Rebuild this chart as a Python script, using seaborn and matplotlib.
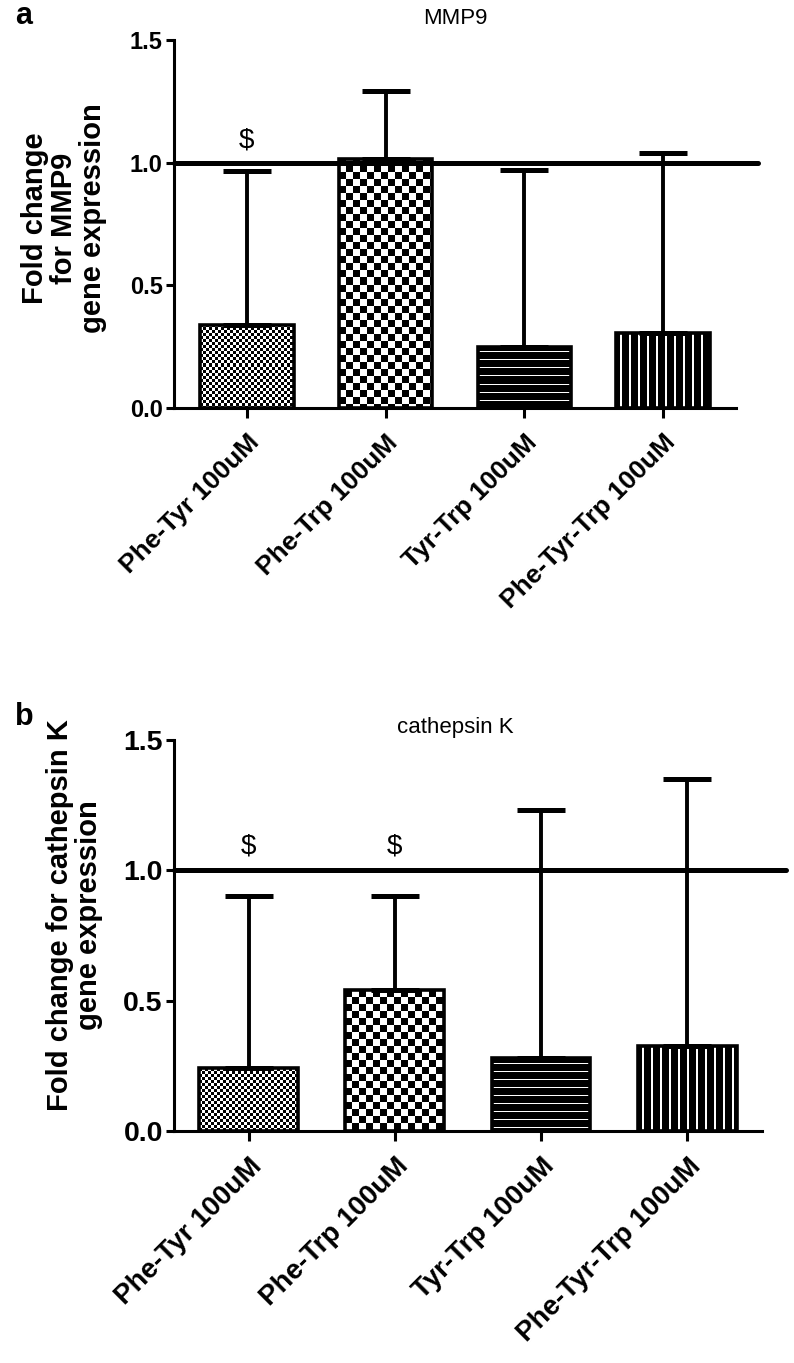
import numpy as np
import pandas as pd
import seaborn as sns
import matplotlib.pyplot as plt

sns.set_theme(style="ticks")
plt.rcParams['font.family'] = ['Liberation Sans', 'DejaVu Sans']
plt.rcParams['text.color'] = 'black'
plt.rcParams['axes.labelcolor'] = 'black'
plt.rcParams['xtick.color'] = 'black'
plt.rcParams['ytick.color'] = 'black'

# data
labels = ["Phe-Tyr 100uM", "Phe-Trp 100uM", "Tyr-Trp 100uM", "Phe-Tyr-Trp 100uM"]

mmp9_mean = [0.34, 1.015, 0.25, 0.305]
mmp9_upper = [0.965, 1.29, 0.97, 1.04]
mmp9_sig = ["$", "", "", ""]

ctsk_mean = [0.24, 0.54, 0.28, 0.325]
ctsk_upper = [0.90, 0.90, 1.23, 1.35]
ctsk_sig = ["$", "$", "", ""]

fills = ["fine", "coarse", "hlines", "vlines"]


def pattern(kind, h, w):
    i, j = np.mgrid[0:h, 0:w]
    if kind == "fine":
        return ((i // 3 + j // 3) % 2).astype(float)
    if kind == "coarse":
        return ((i // 7 + j // 7) % 2).astype(float)
    if kind == "hlines":
        return ((i % 8) == 5).astype(float)
    # vertical white lines
    return (((j - 4) % 9) < 2).astype(float)


def panel(ax, mean, upper, sig, ylabel, yfs, xfs, lab_fs, lab_xy, xpad):
    df = pd.DataFrame({"group": labels, "fold": mean})
    sns.barplot(data=df, x="group", y="fold", ax=ax, color="white", saturation=1,
                edgecolor="black", linewidth=2.6, width=0.675, errorbar=None)
    x = np.arange(len(labels))
    m = np.array(mean)
    err = np.array(upper) - m
    ax.errorbar(x, m, yerr=[np.zeros_like(err), err], fmt="none", ecolor="black",
                elinewidth=2.8, capsize=17, capthick=3.6, zorder=1.5)
    ax.axhline(1.0, xmin=0, xmax=1.04, color="black", lw=3.6, clip_on=False, zorder=3)
    for i, s in enumerate(sig):
        if s:
            ax.text(i, 1.09, s, ha="center", va="center", fontsize=20, color="black")

    xl = (-0.525 + xpad[0], 3.525 + xpad[1])
    ax.set_xlim(*xl)
    ax.set_ylim(0, 1.5)

    # pixel patterns inside the bars
    for p, kind in zip(ax.patches, fills):
        bb = p.get_window_extent()
        h = max(int(round(bb.height)), 1)
        w = max(int(round(bb.width)), 1)
        x0, y0 = p.get_x(), p.get_y()
        ax.imshow(pattern(kind, h, w), cmap="gray", vmin=0, vmax=1,
                  extent=(x0, x0 + p.get_width(), y0, y0 + p.get_height()),
                  interpolation="nearest", aspect="auto", zorder=1)
        p.set_facecolor("none")
        p.set_zorder(2)
    ax.set_xlim(*xl)
    ax.set_ylim(0, 1.5)

    ax.set_yticks([0, 0.5, 1.0, 1.5])
    ax.set_yticklabels(["0.0", "0.5", "1.0", "1.5"], fontsize=yfs, fontweight="bold")
    ax.set_xticks(x)
    ax.set_xticklabels(labels, rotation=45, ha="right", va="top",
                       rotation_mode="anchor", fontsize=xfs, fontweight="bold")
    ax.set_xlabel("")
    ax.set_ylabel(ylabel, fontsize=lab_fs, fontweight="bold", linespacing=1.05)
    ax.yaxis.set_label_coords(*lab_xy)
    sns.despine(ax=ax)
    for sp in ["left", "bottom"]:
        ax.spines[sp].set_linewidth(2.2)
        ax.spines[sp].set_color("black")
    ax.tick_params(axis="y", length=6, width=2.2, color="black", pad=2)
    ax.tick_params(axis="x", length=7, width=2.2, color="black", pad=9)


fig = plt.figure(figsize=(7.94, 13.63), dpi=100)
ax1 = fig.add_axes([0.2191, 0.7007, 0.7078, 0.2700])
ax2 = fig.add_axes([0.2191, 0.1702, 0.7406, 0.2869])

panel(ax1, mmp9_mean, mmp9_upper, mmp9_sig, "Fold change\nfor MMP9\ngene expression",
      17, 19, 21, (-0.119, 0.516), (0, 0))
panel(ax2, ctsk_mean, ctsk_upper, ctsk_sig, "Fold change for cathepsin K\ngene expression",
      20.5, 20, 21, (-0.121, 0.552), (0.015, -0.015))

fig.text(455 / 794, 1 - 18 / 1363, "MMP9", ha="center", va="center", fontsize=16)
fig.text(455 / 794, 1 - 727 / 1363, "cathepsin K", ha="center", va="center", fontsize=16)
fig.text(24 / 794, 1 - 16 / 1363, "a", ha="center", va="center", fontsize=22, fontweight="bold")
fig.text(24 / 794, 1 - 717 / 1363, "b", ha="center", va="center", fontsize=22, fontweight="bold")

fig.savefig("out.png", dpi=100, facecolor="white")
